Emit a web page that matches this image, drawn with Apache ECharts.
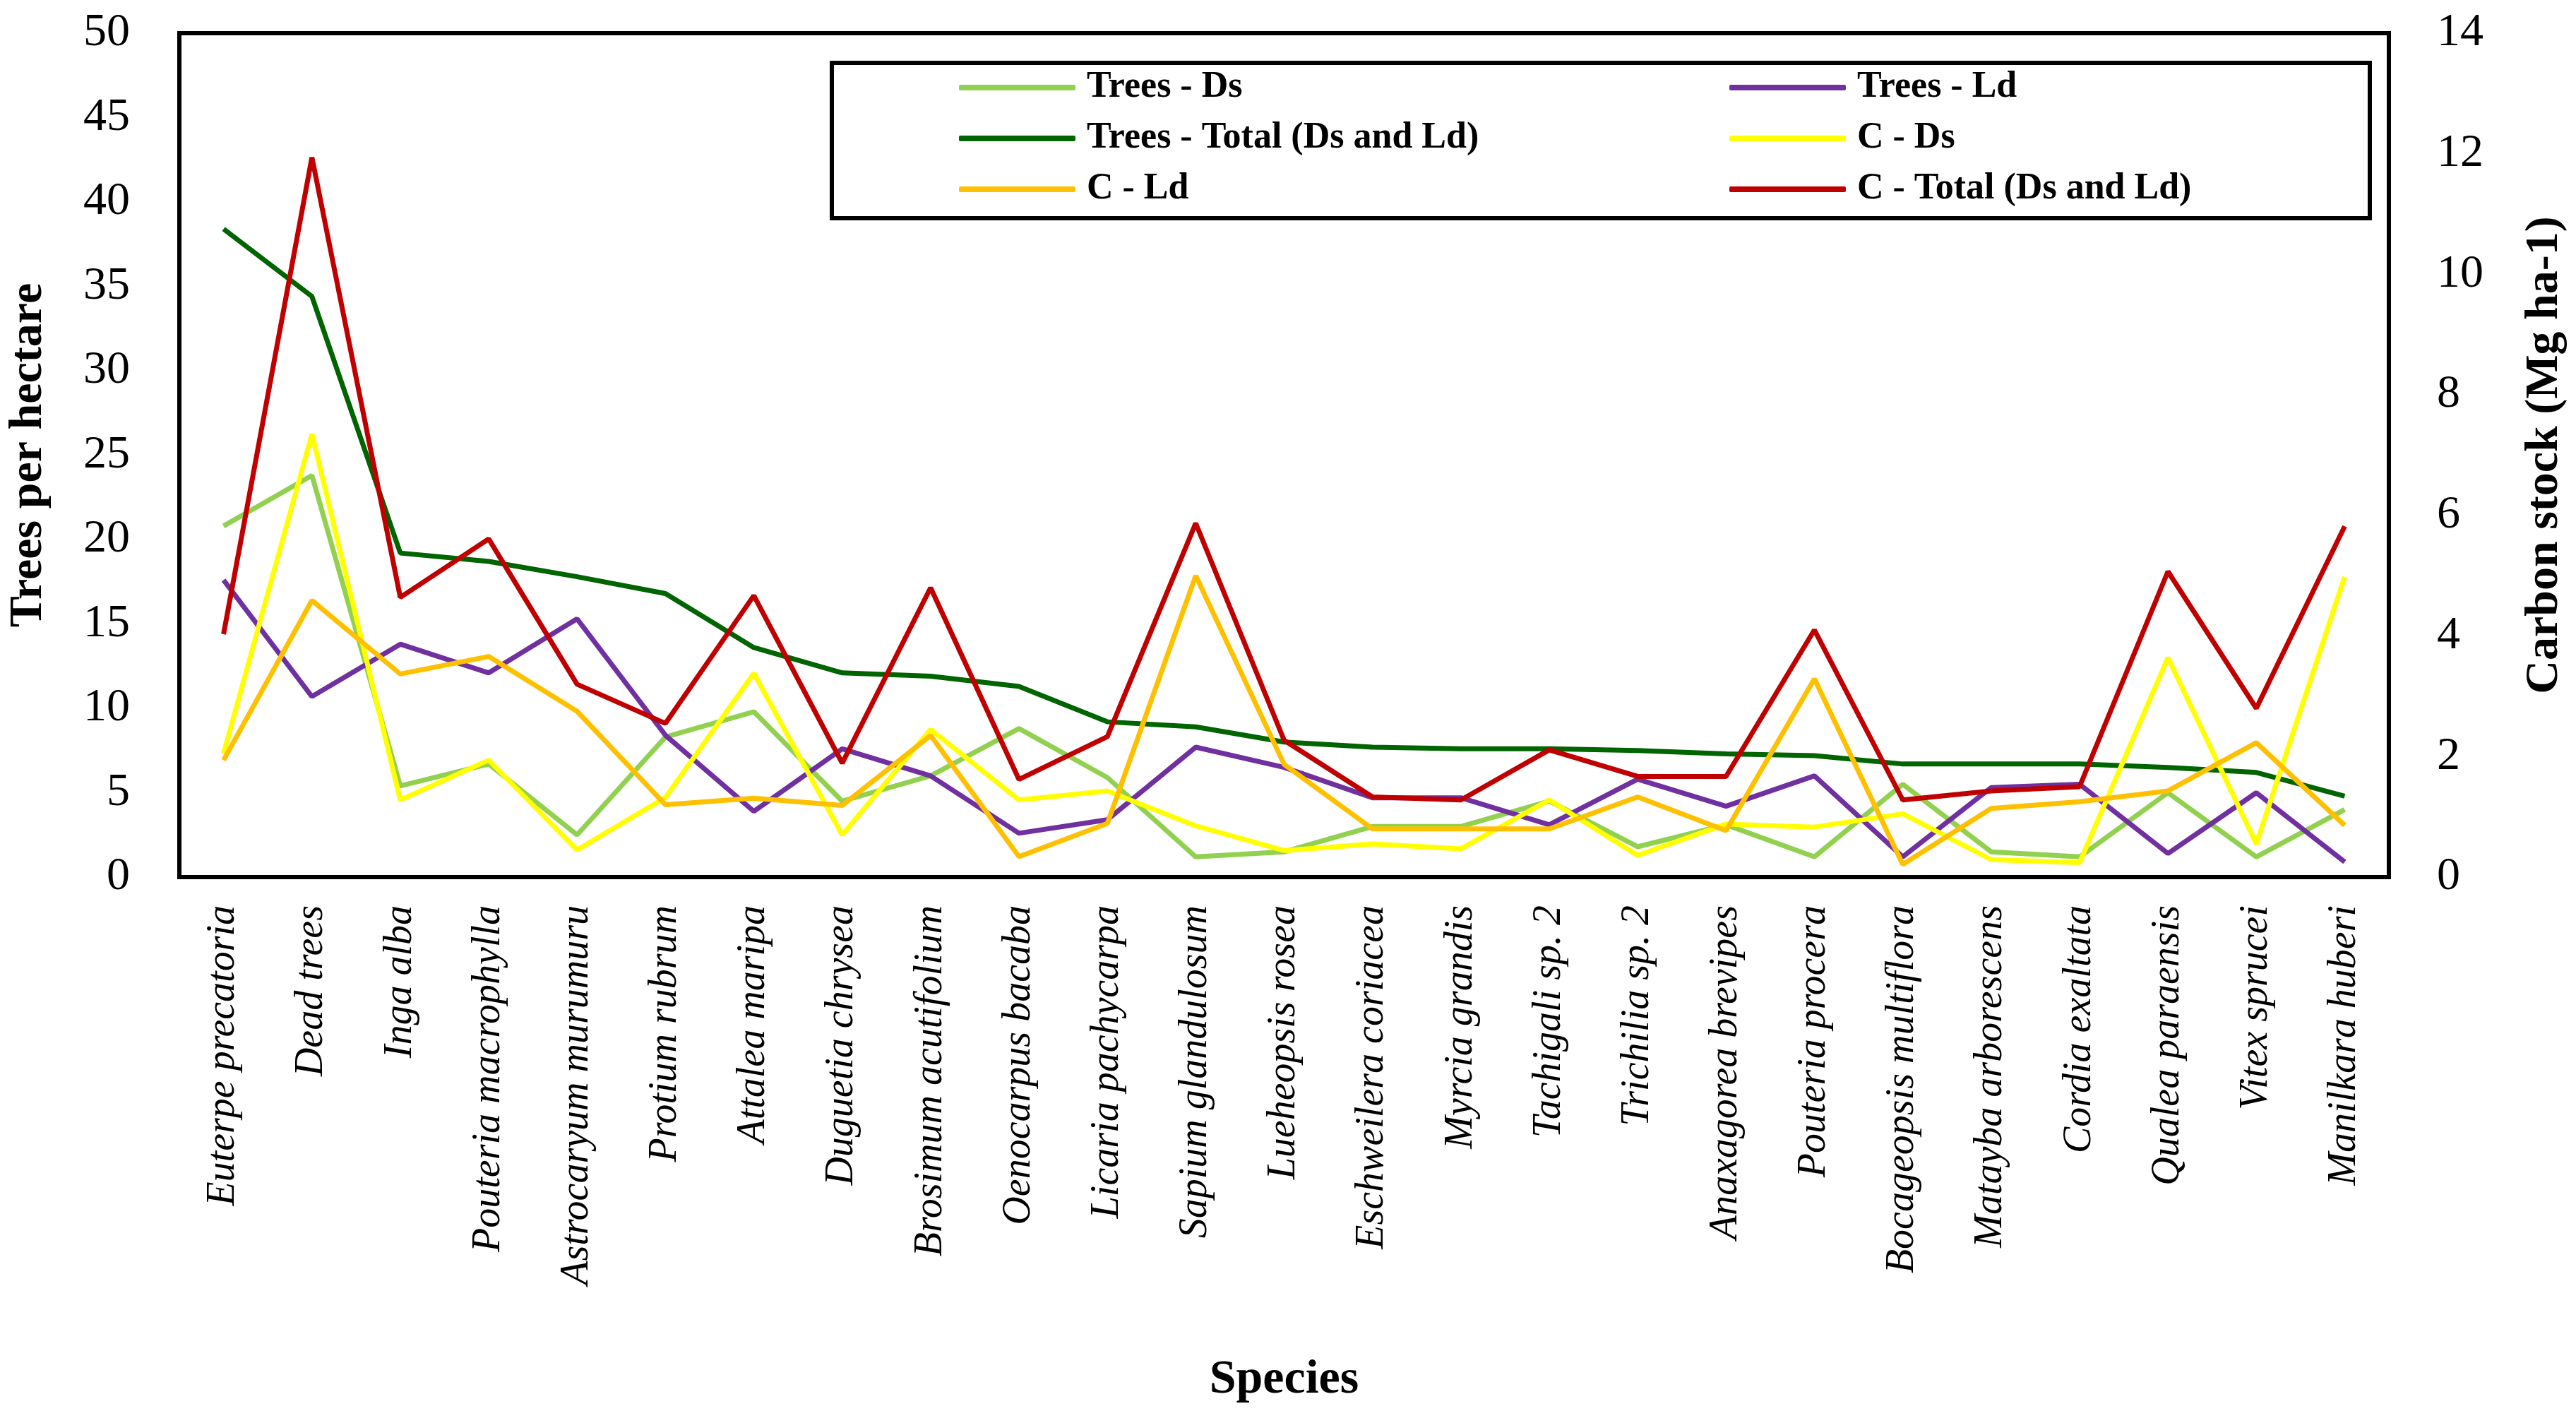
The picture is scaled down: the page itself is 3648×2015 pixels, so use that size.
<!DOCTYPE html>
<html>
<head>
<meta charset="utf-8">
<script src="https://cdn.jsdelivr.net/npm/echarts@6/dist/echarts.min.js"></script>
<style>
html,body{margin:0;padding:0;background:#fff;}
#chart{width:3648px;height:2015px;}
</style>
</head>
<body>
<div id="chart"></div>
<script>
const species = ["Euterpe precatoria","Dead trees","Inga alba","Pouteria macrophylla","Astrocaryum murumuru","Protium rubrum","Attalea maripa","Duguetia chrysea","Brosimum acutifolium","Oenocarpus bacaba","Licaria pachycarpa","Sapium glandulosum","Lueheopsis rosea","Eschweilera coriacea","Myrcia grandis","Tachigali sp. 2","Trichilia sp. 2","Anaxagorea brevipes","Pouteria procera","Bocageopsis multiflora","Matayba arborescens","Cordia exaltata","Qualea paraensis","Vitex sprucei","Manilkara huberi"];
const treesDs = [20.8,23.8,5.4,6.7,2.5,8.3,9.8,4.5,6.0,8.8,5.9,1.2,1.5,3.0,3.0,4.5,1.8,3.1,1.2,5.5,1.5,1.2,5.0,1.2,4.0];
const treesLd = [17.6,10.7,13.8,12.1,15.3,8.4,3.9,7.6,6.0,2.6,3.4,7.7,6.5,4.7,4.7,3.1,5.8,4.2,6.0,1.2,5.3,5.5,1.4,5.0,0.9];
const treesTotal = [38.4,34.4,19.2,18.7,17.8,16.8,13.6,12.1,11.9,11.3,9.2,8.9,8.0,7.7,7.6,7.6,7.5,7.3,7.2,6.7,6.7,6.7,6.5,6.2,4.8];
const cDs = [2.05,7.35,1.28,1.94,0.45,1.32,3.38,0.70,2.45,1.28,1.43,0.85,0.44,0.55,0.47,1.28,0.36,0.88,0.83,1.05,0.29,0.24,3.64,0.55,4.98];
const cLd = [1.94,4.59,3.37,3.66,2.75,1.20,1.31,1.19,2.35,0.34,0.89,5.00,1.87,0.80,0.80,0.80,1.33,0.77,3.29,0.21,1.14,1.25,1.43,2.23,0.86];
const cTotal = [4.03,11.94,4.64,5.61,3.20,2.55,4.67,1.89,4.80,1.62,2.33,5.87,2.27,1.33,1.28,2.11,1.67,1.67,4.10,1.28,1.43,1.50,5.07,2.80,5.82];
const leftTicks = {min:0,max:50,interval:5};
const rightTicks = {min:0,max:14,interval:2};

const FONT = "'Liberation Serif', 'Times New Roman', serif";
const chart = echarts.init(document.getElementById('chart'), null, {renderer:'canvas'});

function line(name, data, color, axisIdx){
  return {name:name, type:'line', data:data, yAxisIndex:axisIdx, symbol:'none', showSymbol:false,
    lineStyle:{color:color, width:7}, itemStyle:{color:color}, animation:false};
}

const legendCommon = {
  orient:'vertical', top:88, padding:0, itemGap:0, itemWidth:165, itemHeight:8, icon:'roundRect',
  textStyle:{fontFamily:FONT, fontSize:52, fontWeight:'bold', color:'#000', lineHeight:72, padding:[0,0,0,11]}
};

chart.setOption({
  backgroundColor:'#fff',
  animation:false,
  grid:{left:249, right:265, top:47, bottom:773, show:true, borderColor:'#000', borderWidth:6, backgroundColor:'transparent'},
  legend:[
    Object.assign({left:1358, data:['Trees - Ds','Trees - Total (Ds and Ld)','C - Ld']}, legendCommon),
    Object.assign({left:2449, data:['Trees - Ld','C - Ds','C - Total (Ds and Ld)']}, legendCommon)
  ],
  graphic:[{type:'rect', left:1175, top:86, shape:{width:2178, height:220}, style:{fill:'none', stroke:'#000', lineWidth:6}, z:100}],
  xAxis:{
    type:'category', data:species, boundaryGap:true,
    axisLine:{show:false}, axisTick:{show:false}, splitLine:{show:false},
    axisLabel:{rotate:90, interval:0, margin:40, fontFamily:FONT, fontStyle:'italic', fontSize:56, color:'#000'},
    name:'Species', nameLocation:'middle', nameGap:678,
    nameTextStyle:{fontFamily:FONT, fontWeight:'bold', fontSize:68, color:'#000'}
  },
  yAxis:[
    {type:'value', position:'left', min:leftTicks.min, max:leftTicks.max, interval:leftTicks.interval,
     axisLine:{show:false}, axisTick:{show:false}, splitLine:{show:false},
     axisLabel:{margin:70, fontFamily:FONT, fontSize:66, color:'#000'},
     name:'Trees per hectare', nameLocation:'middle', nameGap:180, nameRotate:90,
     nameTextStyle:{fontFamily:FONT, fontWeight:'bold', fontSize:66, color:'#000'}},
    {type:'value', position:'right', min:rightTicks.min, max:rightTicks.max, interval:rightTicks.interval,
     axisLine:{show:false}, axisTick:{show:false}, splitLine:{show:false},
     axisLabel:{margin:68, fontFamily:FONT, fontSize:66, color:'#000'},
     name:'Carbon stock (Mg ha-1)', nameLocation:'middle', nameGap:188, nameRotate:90,
     nameTextStyle:{fontFamily:FONT, fontWeight:'bold', fontSize:66, color:'#000'}}
  ],
  series:[
    line('Trees - Ds', treesDs, '#92D050', 0),
    line('Trees - Ld', treesLd, '#7030A0', 0),
    line('Trees - Total (Ds and Ld)', treesTotal, '#006400', 0),
    line('C - Ds', cDs, '#FFFF00', 1),
    line('C - Ld', cLd, '#FFC000', 1),
    line('C - Total (Ds and Ld)', cTotal, '#C00000', 1)
  ]
});
</script>
</body>
</html>
